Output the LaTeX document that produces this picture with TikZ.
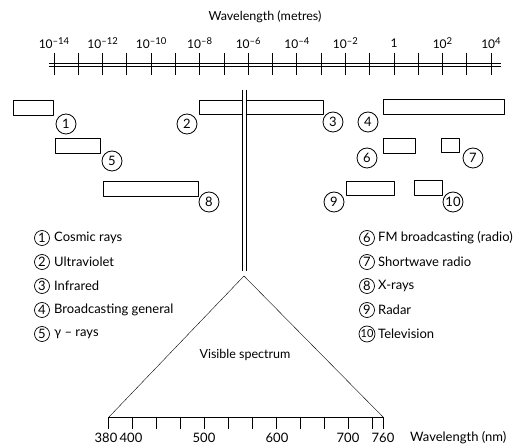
\documentclass[tikz,border=0pt]{standalone}
\usepackage{fontspec}
\setmainfont{Lato}
\usetikzlibrary{calc}
\tikzset{l/.style={font=\fontsize{13}{13}\selectfont}}
\tikzset{m/.style={font=\fontsize{12}{12}\selectfont}}
\tikzset{band/.style={draw, line width=.8pt}}
\tikzset{num/.style={circle, draw, line width=.8pt, inner sep=0pt, minimum size=20pt, l}}
\tikzset{key/.style={circle, draw, line width=.7pt, inner sep=0pt, minimum size=15pt, l}}
\tikzset{txt/.style={anchor=west, inner sep=0pt, l}}
\newcommand{\pw}[1]{10\raisebox{.6ex}{\fontsize{9.5}{9.5}\selectfont #1}}

\begin{document}
\begin{tikzpicture}[x=1pt, y=-1pt, line join=round]
\useasboundingbox (0,0) rectangle (523,446);
\node[l, font=\fontsize{12.5}{12.5}\selectfont] (title) at (265,17) {Wavelength (metres)};
% wavelength scale in metres
\draw (49,63) -- (501,63);
\draw (49,66) -- (501,66);
\foreach \i in {0,...,18}
  \draw[line width=.8pt] ({54+24.28*\i},53) -- ({54+24.28*\i},75);
\foreach \e [count=\k from 0] in {--14,--12,--10,--8,--6,--4,--2}
  \node[m] (e\k) at ({54+48.56*\k},43) {\pw{\e}};
\node[m] (e7) at (394,43) {1};
\node[m] (e8) at (442.5,43) {\pw{2}};
\node[m] (e9) at (491,43) {\pw{4}};

% the bands
\draw[band] (13,100) rectangle (53,115);
\draw[band] (199,100) rectangle (242,114);
\draw[band] (246,100) rectangle (323,114);
\draw[band] (383,99) rectangle (504,114);
\draw[band] (55,138) rectangle (100,153);
\draw[band] (383,138) rectangle (415,153);
\draw[band] (441,138) rectangle (459,152);
\draw[band] (103,181) rectangle (198,196);
\draw[band] (346,181) rectangle (394,195);
\draw[band] (414,180) rectangle (442,195);
\node[num] (n1) at (66,124) {1};
\node[num] (n2) at (187,124) {2};
\node[num] (n3) at (333,122) {3};
\node[num] (n4) at (368,122) {4};
\node[num] (n5) at (112,161) {5};
\node[num] (n6) at (367,158) {6};
\node[num] (n7) at (473,158) {7};
\node[num] (n8) at (209,202) {8};
\node[num] (n9) at (334,202) {9};
\node[num] (n10) at (453,202) {10};

% visible window
\draw (242,90) -- (242,271);
\draw (246,90) -- (246,271);
\draw (109,417) -- (244,276) -- (383,417);
\node[l, font=\fontsize{12.5}{12.5}\selectfont] (vis) at (245,355) {Visible spectrum};

% key
\node[key] (k1) at (42,238) {1};  \node[txt] (t1) at (54,238) {Cosmic rays};
\node[key] (k2) at (42,262) {2};  \node[txt] (t2) at (54,262) {Ultraviolet};
\node[key] (k3) at (42,286) {3};  \node[txt] (t3) at (54,286) {Infrared};
\node[key] (k4) at (42,310) {4};  \node[txt] (t4) at (54,310) {Broadcasting general};
\node[key] (k5) at (42,334) {5};  \node[txt] (t5) at (54,334) {γ – rays};
\node[key] (k6) at (367,238) {6}; \node[txt] (t6) at (378,238) {FM broadcasting (radio)};
\node[key] (k7) at (367,262) {7}; \node[txt] (t7) at (378,262) {Shortwave radio};
\node[key] (k8) at (367,286) {8}; \node[txt] (t8) at (378,286) {X-rays};
\node[key] (k9) at (367,310) {9}; \node[txt] (t9) at (378,310) {Radar};
\node[key, font=\fontsize{11}{11}\selectfont, minimum size=16pt] (k10) at (367,334) {10};
\node[txt] (t10) at (378,334) {Television};

% wavelength scale in nm
\draw (108,417) -- (383,417);
\foreach \x in {108,132,156,180,204,228,252,276,300,324,348,372,383}
  \draw (\x,417) -- (\x,429);
\node[l] (w380) at (106,438) {380};
\node[l] (w400) at (131,438) {400};
\node[l] (w500) at (204,438) {500};
\node[l] (w600) at (277,438) {600};
\node[l] (w700) at (348,438) {700};
\node[l] (w760) at (383,438) {760};
\node[txt] (wnm) at (410,438) {Wavelength (nm)};
\end{tikzpicture}
\end{document}
